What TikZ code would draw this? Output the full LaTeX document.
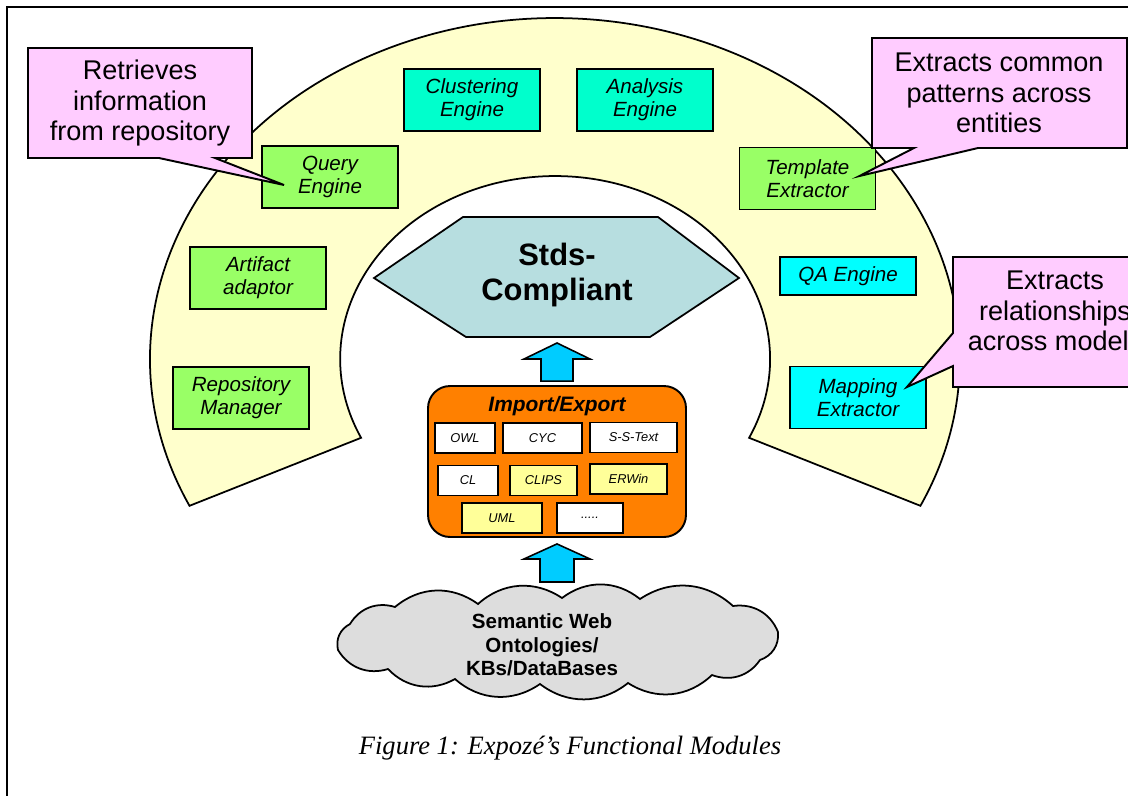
\documentclass[tikz,border=0pt]{standalone}
\usepackage{fontspec}
\setmainfont{Liberation Sans}
\newfontfamily\captionserif{Liberation Serif}
\usepackage{xcolor}
\definecolor{bandYellow}{HTML}{FFFFCC}
\definecolor{modGreen}{HTML}{99FF66}
\definecolor{modTeal}{HTML}{00FFCC}
\definecolor{modCyan}{HTML}{00FFFF}
\definecolor{notePink}{HTML}{FFCCFF}
\definecolor{hexBlue}{HTML}{B7DEE0}
\definecolor{plugOrange}{HTML}{FF8000}
\definecolor{plugYellow}{HTML}{FFFF99}
\definecolor{arrowBlue}{HTML}{00CCFF}
\definecolor{cloudGray}{HTML}{DDDDDD}
\usetikzlibrary{calc}

\begin{document}
\begin{tikzpicture}[
        x=0.02cm, y=-0.02cm,
        modbox/.style={rectangle, draw=black, line width=1.1pt, minimum width=2.72cm, minimum height=1.24cm, inner sep=0pt, align=center, font=\fontsize{11.7}{13}\selectfont\itshape},
        greenbox/.style={modbox, fill=modGreen},
        tealbox/.style={modbox, fill=modTeal},
        cyanbox/.style={modbox, fill=modCyan},
        note/.style={draw=black, line width=1.1pt, fill=notePink},
        notetext/.style={align=center, font=\fontsize{15.4}{17.3}\selectfont},
        plug/.style={rectangle, draw=black, line width=1.1pt, fill=white, minimum height=0.6cm, inner sep=0pt, font=\fontsize{7.3}{8}\selectfont\itshape},
        plugY/.style={plug, fill=plugYellow},
        blockarr/.style={draw=black, line width=0.9pt, fill=arrowBlue},
        puff/.style={bend left=38},
    ]
        \useasboundingbox (0,0) rectangle (1128,795);

        % Frame
        \draw[line width=1.3pt] (7,810) -- (7,7) -- (1140,7);

        % Band of modules
        \filldraw[draw=black, line width=1pt, fill=bandYellow]
            (189.5,505.8) arc[start angle=205.5, end angle=-25.5, x radius=8.1cm, y radius=6.82cm]
            -- (749.1,437.8) arc[start angle=-25.5, end angle=205.5, x radius=4.3cm, y radius=3.66cm]
            -- cycle;

        % Modules
        \node[tealbox]  (cluster)  at (472,100)   {Clustering\\Engine};
        \node[tealbox]  (analysis) at (645,100)   {Analysis\\Engine};
        \node[greenbox] (query)    at (330,177)   {Query\\Engine};
        \node[greenbox] (template) at (807.5,178.5) {Template\\Extractor};
        \node[greenbox] (artifact) at (258,278)   {Artifact\\adaptor};
        \node[cyanbox, minimum height=0.76cm] (qa) at (848,276) {QA Engine};
        \node[greenbox] (repo)     at (241,398)   {Repository\\Manager};
        \node[cyanbox]  (mapping)  at (858,397.5) {Mapping\\Extractor};

        % Standards-compliant core
        \filldraw[draw=black, line width=1pt, fill=hexBlue]
            (374,278) -- (463,217) -- (658,217) -- (739,278) -- (650,337) -- (466,337) -- cycle;
        \node[align=center, font=\fontsize{17.6}{20.4}\selectfont\bfseries] (stds) at (557,275) {Stds-\\Compliant};
        \coordinate (hexbot) at (557,337);

        % Import/Export plugins
        \node[rectangle, rounded corners=0.44cm, draw=black, line width=1.1pt, fill=plugOrange, minimum width=5.16cm, minimum height=3.02cm] (imp) at (557,461.5) {};
        \node[font=\fontsize{11.9}{14}\selectfont\bfseries\itshape] (imptitle) at (557,406) {Import/Export};
        \node[plug,  minimum width=1.2cm]  (owl)   at (465,438)     {OWL};
        \node[plug,  minimum width=1.58cm] (cyc)   at (542.5,438)   {CYC};
        \node[plug,  minimum width=1.74cm] (sstext) at (633.5,437.5) {S-S-Text};
        \node[plug,  minimum width=1.2cm]  (cl)    at (468,480.5)   {CL};
        \node[plugY, minimum width=1.34cm] (clips) at (543.5,480.5) {CLIPS};
        \node[plugY, minimum width=1.54cm] (erwin) at (628.5,479)   {ERWin};
        \node[plugY, minimum width=1.6cm]  (uml)   at (502,518)     {UML};
        \node[plug,  minimum width=1.32cm] (more)  at (590,518)     {.....};

        % Knowledge sources
        \filldraw[draw=black, line width=1pt, fill=cloudGray]
            (338,650) to[puff] (350,624) to[puff] (395,607) to[puff] (478,604)
            to[puff] (562,598) to[puff] (640,599) to[puff] (733,606) to[puff] (778,632)
            to[puff] (760,660) to[puff] (712,675) to[puff] (628,683) to[puff] (540,684)
            to[puff] (455,679) to[puff] (388,669) to[puff] (338,650) -- cycle;
        \coordinate (kbtop) at (557,587);
        \node[align=center, font=\fontsize{11.7}{13.3}\selectfont\bfseries] (kbtext) at (542,645) {Semantic Web\\Ontologies/\\KBs/DataBases};

        % Block arrows
        \coordinate (a1b) at ($(imp.north)+(0,-4)$);
        \coordinate (a1t) at ($(hexbot)+(0,6)$);
        \filldraw[blockarr] ($(a1b)+(-16,0)$) -- ($(a1t)+(-16,16)$) -- ($(a1t)+(-33,16)$) -- (a1t)
            -- ($(a1t)+(33,16)$) -- ($(a1t)+(16,16)$) -- ($(a1b)+(16,0)$) -- cycle;
        \coordinate (a2b) at ($(kbtop)+(0,-5)$);
        \coordinate (a2t) at ($(imp.south)+(0,6)$);
        \filldraw[blockarr] ($(a2b)+(-17,0)$) -- ($(a2t)+(-17,15)$) -- ($(a2t)+(-33,15)$) -- (a2t)
            -- ($(a2t)+(33,15)$) -- ($(a2t)+(17,15)$) -- ($(a2b)+(17,0)$) -- cycle;

        % Callouts
        \coordinate (qtip) at ($(query.west)+(23,8)$);
        \draw[note] (28,48) -- (252,48) -- (252,158) -- (215,158) -- (qtip) -- (159,158) -- (28,158) -- cycle;
        \node[notetext] (retrieves) at (140,103) {Retrieves\\information\\from repository};

        \coordinate (ttip) at ($(template.east)+(-17,-2.5)$);
        \draw[note] (872,38) -- (1127,38) -- (1127,148) -- (978,148) -- (ttip) -- (914,148) -- (872,148) -- cycle;
        \node[notetext] (patterns) at (999,93) {Extracts common\\patterns across\\entities};

        \coordinate (mtip) at ($(mapping.east)+(-20,-10.5)$);
        \draw[note] (953,257) -- (1190,257) -- (1190,387) -- (953,387) -- (953,366) -- (mtip) -- (953,333) -- cycle;
        \node[notetext] (relations) at (1055,311) {Extracts\\relationships\\across models};

        % Caption
        \node[font=\captionserif\itshape\fontsize{15.1}{18}\selectfont] (caption) at (570,748) {Figure 1: Expozé’s Functional Modules};

    \end{tikzpicture}
\end{document}
